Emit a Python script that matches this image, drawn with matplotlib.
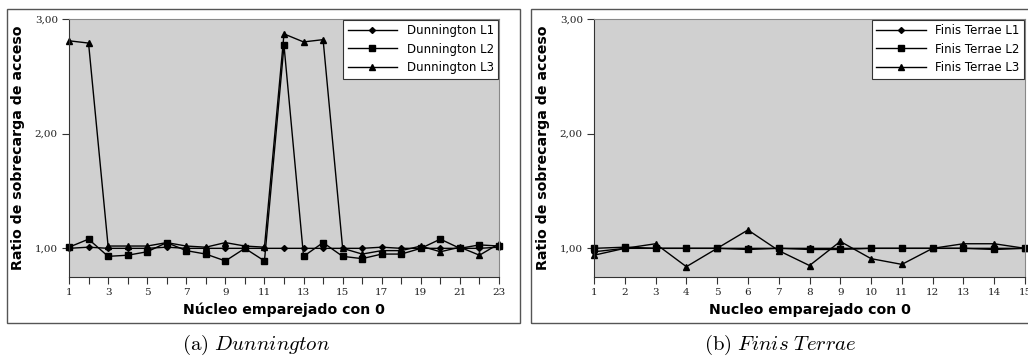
import numpy as np
import matplotlib
matplotlib.use("Agg")
import matplotlib.pyplot as plt
from matplotlib.patches import Rectangle

plt.rcParams['mathtext.fontset'] = 'cm'

# data
dun_x = list(range(1, 24))
dun_l1 = [1.00, 1.01, 1.00, 1.00, 1.00, 1.01, 1.00, 1.00, 1.00, 1.00, 1.00, 1.00,
          1.00, 1.00, 1.00, 1.00, 1.01, 1.00, 1.00, 1.00, 1.00, 1.00, 1.01]
dun_l2 = [1.01, 1.08, 0.93, 0.94, 0.97, 1.05, 0.98, 0.95, 0.89, 1.00, 0.89, 2.77,
          0.93, 1.05, 0.93, 0.91, 0.95, 0.95, 1.00, 1.08, 1.00, 1.03, 1.02]
dun_l3 = [2.81, 2.79, 1.02, 1.02, 1.02, 1.05, 1.02, 1.01, 1.05, 1.02, 1.01, 2.87,
          2.80, 2.82, 1.00, 0.95, 0.98, 0.98, 1.02, 0.97, 1.01, 0.94, 1.04]
dun_names = ["Dunnington L1", "Dunnington L2", "Dunnington L3"]

ft_x = list(range(1, 16))
ft_l1 = [0.97, 1.00, 1.00, 1.00, 1.00, 1.00, 1.00, 1.00, 1.00, 1.00, 1.00, 1.00,
         1.00, 1.00, 1.00]
ft_l2 = [1.00, 1.01, 1.00, 1.00, 1.00, 0.99, 1.00, 0.99, 0.99, 1.00, 1.00, 1.00,
         1.00, 0.99, 1.00]
ft_l3 = [0.94, 1.00, 1.04, 0.84, 1.00, 1.16, 0.98, 0.85, 1.06, 0.91, 0.86, 1.00,
         1.04, 1.04, 1.00]
ft_names = ["Finis Terrae L1", "Finis Terrae L2", "Finis Terrae L3"]

y_ticks = [1, 2, 3]
y_ticklabels = ["1,00", "2,00", "3,00"]
y_label = "Ratio de sobrecarga de acceso"
dun_xlabel = "Núcleo emparejado con 0"
ft_xlabel = "Nucleo emparejado con 0"
captions = [r"$\mathrm{(a)}\ \mathit{Dunnington}$", r"$\mathrm{(b)}\ \mathit{Finis\ Terrae}$"]

markers = ["D", "s", "^"]
msizes = [3.0, 4.8, 4.8]

fig = plt.figure(figsize=(10.28, 3.58), dpi=100)

# panel frames
fig.patches.append(Rectangle((7 / 1028, 1 - 323 / 358), 513 / 1028, 314 / 358,
                             transform=fig.transFigure, fill=False,
                             edgecolor="#555555", lw=1))
fig.patches.append(Rectangle((531 / 1028, 1 - 323 / 358), 520 / 1028, 314 / 358,
                             transform=fig.transFigure, fill=False,
                             edgecolor="#555555", lw=1))


def draw(rect, xs, series, names, xticklabels, xlabel, caption, cx):
    ax = fig.add_axes(rect)
    ax.set_facecolor("#d0d0d0")
    for ys, m, ms, n in zip(series, markers, msizes, names):
        ax.plot(xs, ys, color="black", lw=1, marker=m, markersize=ms, label=n,
                clip_on=False)
    ax.set_xlim(xs[0], xs[-1])
    ax.set_ylim(0.75, 3.0)
    ax.set_xticks(xs)
    ax.set_xticklabels(xticklabels, family="DejaVu Serif", fontsize=7.5)
    ax.set_yticks(y_ticks)
    ax.set_yticklabels(y_ticklabels, family="DejaVu Serif", fontsize=7.5)
    ax.tick_params(length=5, width=0.8, color="#333333", labelcolor="#222222",
                   direction="out", pad=3)
    for s in ["left", "bottom"]:
        ax.spines[s].set_color("#333333")
    for s in ["top", "right"]:
        ax.spines[s].set_color("#888888")
    ax.set_ylabel(y_label, fontsize=10.2, fontweight="bold", labelpad=7)
    ax.set_xlabel(xlabel, fontsize=10.2, fontweight="bold", labelpad=4)
    leg = ax.legend(loc="upper right", fontsize=8.5, handlelength=4.2,
                    fancybox=False, framealpha=1, edgecolor="#333333",
                    borderaxespad=0.05, labelspacing=0.45)
    leg.get_frame().set_linewidth(0.8)
    fig.text(cx / 1028, 1 - 345 / 358, caption, fontsize=15, ha="center", va="center")
    return ax


dun_ticklabels = [str(v) if v % 2 == 1 else "" for v in dun_x]
draw([69 / 1028, 1 - 277 / 358, 430 / 1028, 258 / 358], dun_x,
     [dun_l1, dun_l2, dun_l3], dun_names, dun_ticklabels, dun_xlabel, captions[0], 256)
draw([594 / 1028, 1 - 277 / 358, 431 / 1028, 258 / 358], ft_x,
     [ft_l1, ft_l2, ft_l3], ft_names, [str(v) for v in ft_x], ft_xlabel, captions[1], 780)

fig.savefig("out.png", dpi=100)
